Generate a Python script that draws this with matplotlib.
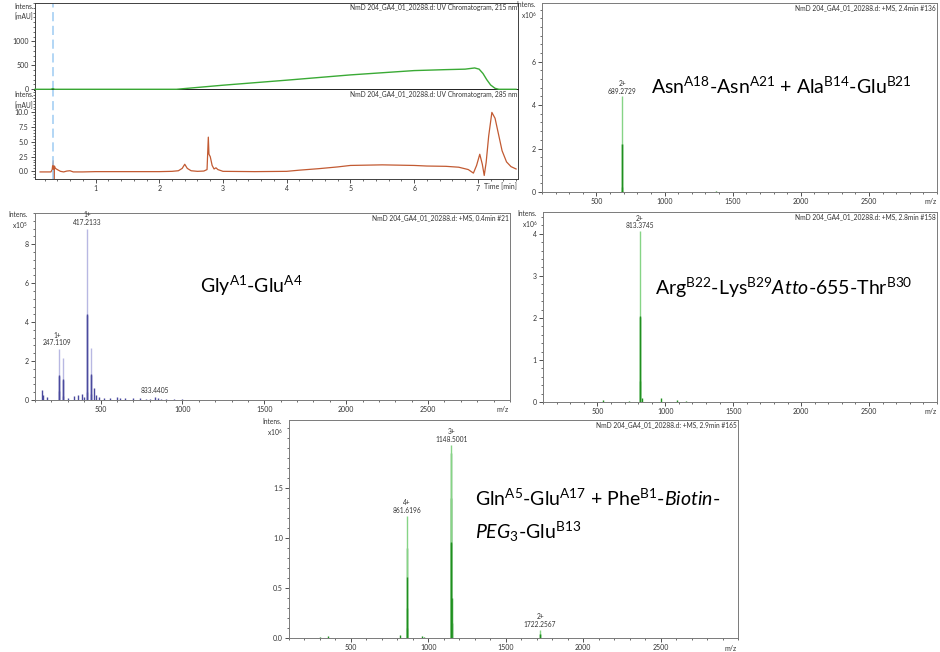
import matplotlib
matplotlib.use("Agg")
import matplotlib.pyplot as plt
from matplotlib.ticker import MultipleLocator, AutoMinorLocator

plt.rcParams['font.family'] = ['Lato', 'DejaVu Sans']
plt.rcParams['mathtext.fontset'] = 'custom'
plt.rcParams['mathtext.rm'] = 'Lato'
plt.rcParams['mathtext.it'] = 'Lato:italic'
plt.rcParams['mathtext.bf'] = 'Lato:bold'

# --- UV chromatograms (time in min, absorbance in mAU) ---
uv215_t = [0.05, 0.30, 0.33, 0.36, 0.5, 1.0, 1.5, 2.0, 2.27, 3.0, 4.0, 5.0, 5.5, 6.0,
           6.5, 6.8, 6.95, 7.02, 7.08, 7.14, 7.2, 7.27, 7.33, 7.45, 7.6]
uv215_a = [0, 0, 15, 0, 0, 0, 0, 0, 0, 85, 190, 300, 345, 390,
           410, 420, 445, 420, 330, 200, 90, 20, 0, 0, 0]

uv285_t = [0.13, 0.30, 0.32, 0.335, 0.34, 0.345, 0.355, 0.37, 0.40, 0.45, 0.50, 0.55,
           0.60, 0.65, 0.80, 1.00, 1.50, 2.00, 2.20, 2.30, 2.36, 2.40, 2.44, 2.50,
           2.60, 2.70, 2.75, 2.77, 2.78, 2.80, 2.83, 2.86, 2.89, 2.92, 3.00, 3.50,
           4.00, 4.20, 4.50, 4.80, 5.00, 5.50, 6.00, 6.20, 6.50, 6.70, 6.85, 6.93,
           6.98, 7.03, 7.07, 7.10, 7.13, 7.17, 7.22, 7.27, 7.32, 7.38, 7.45, 7.52, 7.60]
uv285_a = [-0.1, -0.1, 0.3, 1.8, 0.2, -1.6, 0.9, 0.5, 0.3, 0.0, -0.1, 0.05,
           0.1, -0.1, -0.1, -0.05, -0.05, -0.05, 0.0, 0.1, 0.5, 1.2, 0.5, 0.1,
           0.0, 0.05, 0.3, 5.8, 2.9, 2.5, 1.0, 0.4, 0.6, 0.3, 0.0, -0.05,
           0.0, 0.2, 0.45, 0.75, 1.0, 1.1, 1.0, 0.9, 0.85, 0.7, 0.3, -0.3,
           1.0, 2.9, 1.2, -0.7, 1.5, 6.0, 10.0, 9.0, 6.5, 3.5, 1.6, 0.8, 0.4]
marker_time = 0.33
uv215_ticks = [0, 500, 1000]
uv285_ticks = [0.0, 2.5, 5.0, 7.5, 10.0]
time_ticks = [1, 2, 3, 4, 5, 6, 7]
mz_ticks = [500, 1000, 1500, 2000, 2500]

# --- MS spectra: tall (light) lines and isotope / minor (dark) lines ---
asn_main_mz = [689.27]
asn_main_i = [4.4]
asn_iso_mz = [689.77, 690.27, 690.77, 1377.5]
asn_iso_i = [2.2, 0.25, 0.05, 0.05]

gly_main_mz = [247.11, 269.09, 417.21, 439.20]
gly_main_i = [2.6, 2.15, 8.8, 2.65]
gly_iso_mz = [145, 148, 174, 248.11, 249.1, 270.09, 271.1, 304, 341, 361, 384, 402,
              418.21, 419.2, 440.2, 441.2, 459, 470, 490, 520, 560, 600, 620, 650,
              700, 740, 780, 800, 833.44, 850, 870, 900, 950, 1000, 1050, 1100]
gly_iso_i = [0.5, 0.25, 0.15, 1.25, 0.45, 1.05, 0.2, 0.1, 0.2, 0.25, 0.3, 0.15,
             4.35, 0.4, 1.3, 0.3, 0.6, 0.25, 0.15, 0.1, 0.12, 0.15, 0.1, 0.1,
             0.1, 0.08, 0.05, 0.06, 0.15, 0.1, 0.06, 0.05, 0.03, 0.03, 0.02, 0.02]

arg_main_mz = [813.37]
arg_main_i = [4.07]
arg_iso_mz = [813.87, 814.37, 400, 540, 735, 828, 972, 1085, 1150, 1180]
arg_iso_i = [2.02, 0.5, 0.01, 0.05, 0.03, 0.1, 0.1, 0.05, 0.02, 0.01]

gln_main_mz = [861.62, 1148.50, 1722.26]
gln_main_i = [1.22, 1.93, 0.08]
gln_iso_mz = [861.87, 862.12, 862.37, 1148.83, 1149.17, 1149.50, 1149.83, 1150.17,
              1722.76, 300, 350, 820, 960, 975]
gln_iso_i = [0.9, 0.3, 0.1, 1.85, 1.4, 0.95, 0.4, 0.15, 0.04, 0.01, 0.02, 0.03, 0.02, 0.01]

W, H = 940, 652
fig = plt.figure(figsize=(W / 100, H / 100), dpi=100)


def box(l, t, r, b):
    return [l / W, 1 - b / H, (r - l) / W, (b - t) / H]


def style(ax, spine_col="#7a7a7a"):
    for s in ax.spines.values():
        s.set_color(spine_col)
        s.set_linewidth(0.7)
    ax.tick_params(which='major', direction='out', length=3, width=0.6, labelsize=5,
                   pad=1.5, colors="#333333")
    ax.tick_params(which='minor', direction='out', length=1.5, width=0.5, colors="#333333")
    ax.xaxis.set_minor_locator(AutoMinorLocator())
    ax.yaxis.set_minor_locator(AutoMinorLocator())


small = dict(fontsize=4.8, color="#333333")
fname = "NmD 204_GA4_01_20288.d: "
dash_col = "#9ecbf2"

# ---------------- UV 215 nm ----------------
ax1 = fig.add_axes(box(35, 3, 518, 90))
ax1.plot(uv215_t, uv215_a, color="#3aaa35", lw=1.0, zorder=3, clip_on=False)
ax1.axvline(marker_time, color=dash_col, lw=1.1, ls=(0, (6, 3)))
ax1.set_xlim(0.05, 7.63)
ax1.set_ylim(-15, 1800)
ax1.set_yticks(uv215_ticks)
style(ax1, "#404040")
ax1.spines['bottom'].set_linewidth(1.4)
ax1.spines['bottom'].set_color("#202020")
ax1.tick_params(axis='x', which='both', bottom=False, labelbottom=False)
ax1.text(0.998, 0.99, fname + "UV Chromatogram, 215 nm", transform=ax1.transAxes,
         ha='right', va='top', **small)
ax1.text(-0.003, 1.0, "Intens.\n[mAU]", transform=ax1.transAxes, ha='right', va='top',
         linespacing=1.5, **small)

# ---------------- UV 285 nm ----------------
ax2 = fig.add_axes(box(35, 90, 518, 179))
ax2.plot(uv285_t, uv285_a, color="#c25a32", lw=0.9)
ax2.axvline(marker_time, color=dash_col, lw=1.1, ls=(0, (6, 3)))
ax2.set_xlim(0.05, 7.63)
ax2.set_ylim(-1.3, 13.8)
ax2.set_xticks(time_ticks)
ax2.set_yticks(uv285_ticks)
ax2.set_yticklabels(["%.1f" % v for v in uv285_ticks])
style(ax2, "#404040")
ax2.spines['top'].set_visible(False)
ax2.text(0.998, 0.99, fname + "UV Chromatogram, 285 nm", transform=ax2.transAxes,
         ha='right', va='top', **small)
ax2.text(-0.003, 0.985, "Intens.\n[mAU]", transform=ax2.transAxes, ha='right', va='top',
         linespacing=1.5, **small)
ax2.text(0.997, -0.045, "Time [min]", transform=ax2.transAxes, ha='right', va='top',
         fontsize=5, color="#333333")


def ms_panel(rect, main_mz, main_i, iso_mz, iso_i, light, dark, ymax, yticks, yfmt,
             scale, header, labels, big):
    ax = fig.add_axes(box(*rect))
    ax.vlines(iso_mz, 0, iso_i, colors=dark, lw=1.0)
    ax.vlines(main_mz, 0, main_i, colors=light, lw=1.0)
    ax.vlines(main_mz, 0, [v * 0.5 for v in main_i], colors=dark, lw=1.0)
    ax.set_xlim(100, 3000)
    ax.set_ylim(0, ymax)
    style(ax)
    ax.set_xticks(mz_ticks)
    ax.set_yticks(yticks)
    ax.set_yticklabels([yfmt % v for v in yticks])
    ax.xaxis.set_minor_locator(MultipleLocator(100))
    ax.yaxis.set_minor_locator(MultipleLocator((yticks[1] - yticks[0]) / 5))
    ax.text(0.997, 0.99, fname + header, transform=ax.transAxes, ha='right', va='top', **small)
    ax.text(-0.015, 1.01, "Intens.\nx10$^{%d}$" % scale, transform=ax.transAxes,
            ha='right', va='top', linespacing=1.2, **small)
    ax.text(0.998, -0.03, "m/z", transform=ax.transAxes, ha='right', va='top',
            fontsize=5, color="#333333")
    for x, y, s in labels:
        ax.text(x, y, s, ha='center', va='bottom', linespacing=1.1, **small)
    for x, y, s, ha in big:
        ax.text(x, y, s, transform=ax.transAxes, ha=ha, va='center', fontsize=14,
                color="black")
    return ax


# Asn A18 - Asn A21 + Ala B14 - Glu B21
ms_panel((542, 3, 937, 192), asn_main_mz, asn_main_i, asn_iso_mz, asn_iso_i,
         "#86d486", "#1f8f1f", 8.7, [0, 2, 4, 6], "%d", 6, "+MS, 2.4min #136",
         [(asn_main_mz[0], asn_main_i[0] + 0.08, "2+\n689.2729")],
         [(0.605, 0.56,
           r"Asn$^{\mathrm{A18}}$-Asn$^{\mathrm{A21}}$ + Ala$^{\mathrm{B14}}$-Glu$^{\mathrm{B21}}$",
           'center')])

# Gly A1 - Glu A4
ms_panel((35, 213, 510, 400), gly_main_mz, gly_main_i, gly_iso_mz, gly_iso_i,
         "#b8b8e2", "#4a4a9e", 9.6, [0, 2, 4, 6, 8], "%d", 5, "+MS, 0.4min #21",
         [(gly_main_mz[0] - 10, gly_main_i[0] + 0.15, "1+\n247.1109"),
          (gly_main_mz[2], gly_main_i[2] + 0.15, "1+\n417.2133"),
          (833.44, 0.3, "833.4405")],
         [(0.455, 0.61, r"Gly$^{\mathrm{A1}}$-Glu$^{\mathrm{A4}}$", 'center')])

# Arg B22 - Lys B29 Atto-655 - Thr B30
ms_panel((543, 212, 937, 402), arg_main_mz, arg_main_i, arg_iso_mz, arg_iso_i,
         "#86d486", "#1f8f1f", 4.52, [0, 1, 2, 3, 4], "%d", 6, "+MS, 2.8min #158",
         [(arg_main_mz[0], arg_main_i[0] + 0.04, "2+\n813.3745")],
         [(0.61, 0.6,
           r"Arg$^{\mathrm{B22}}$-Lys$^{\mathrm{B29}}$$\mathit{Atto}$-$\mathit{655}$-Thr$^{\mathrm{B30}}$",
           'center')])

# Gln A5 - Glu A17 + Phe B1 - Biotin-PEG3 - Glu B13
ms_panel((289, 420, 738, 638), gln_main_mz, gln_main_i, gln_iso_mz, gln_iso_i,
         "#86d486", "#1f8f1f", 2.18, [0.0, 0.5, 1.0, 1.5], "%.1f", 6, "+MS, 2.9min #165",
         [(gln_main_mz[0], gln_main_i[0] + 0.02, "4+\n861.6196"),
          (gln_main_mz[1], gln_main_i[1] + 0.02, "3+\n1148.5001"),
          (gln_main_mz[2], gln_main_i[2] + 0.02, "2+\n1722.2567")],
         [(0.415, 0.64,
           r"Gln$^{\mathrm{A5}}$-Glu$^{\mathrm{A17}}$ + Phe$^{\mathrm{B1}}$-$\mathit{Biotin}$-",
           'left'),
          (0.415, 0.485, r"$\mathit{PEG}_{\mathit{3}}$-Glu$^{\mathrm{B13}}$", 'left')])

fig.savefig("out.png", dpi=100)
